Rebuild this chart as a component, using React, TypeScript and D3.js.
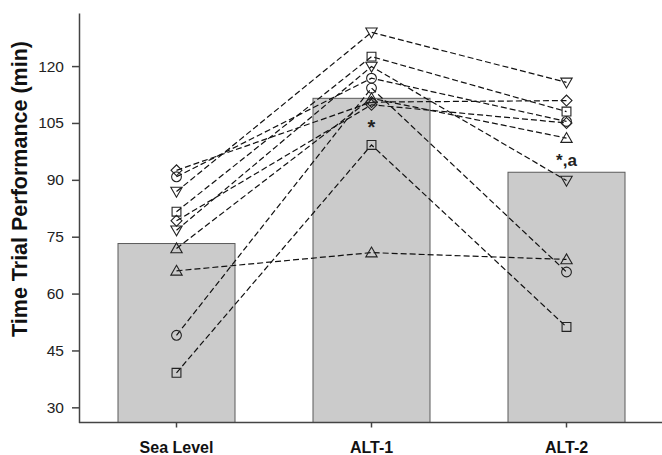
import { useRef, useEffect } from "react";
import * as d3 from "d3";

const conditions = ["Sea Level", "ALT-1", "ALT-2"];
const meanValues = [73.2, 111.5, 92.0];
const annotations = ["", "*", "*,a"];

// one entry per subject, same symbol kept across conditions
const subjectSymbols = [
  "circle", "circle",
  "triangleDown", "triangleDown",
  "square", "square",
  "diamond", "diamond",
  "triangleUp", "triangleUp",
];
const seaLevel = [90.8, 49.0, 86.9, 76.7, 81.6, 39.1, 92.5, 79.2, 71.9, 66.0];
const alt1 = [116.8, 114.2, 128.9, 119.9, 122.5, 99.2, 110.5, 109.8, 111.5, 70.8];
const alt2 = [105.4, 65.7, 115.7, 89.8, 108.0, 51.2, 110.9, 105.0, 101.0, 69.0];

const yTicks = [30, 45, 60, 75, 90, 105, 120];
const yDomain = [26, 134];

const font = "'Liberation Sans', Arial, sans-serif";

export default function App() {
  const svgRef = useRef<SVGSVGElement>(null);

  useEffect(() => {
    if (!svgRef.current) return;
    const width = 662;
    const height = 455;
    const left = 79;
    const top = 13;
    const bottom = 422.5;

    const svg = d3.select(svgRef.current);
    svg.selectAll("*").remove();
    svg.attr("width", width).attr("height", height);

    const x = d3
      .scaleBand<string>()
      .domain(conditions)
      .range([left, 664])
      .paddingInner(0.4)
      .paddingOuter(0.2);

    const y = d3.scaleLinear().domain(yDomain).range([bottom, top]);

    // Bars (means)
    svg
      .append("g")
      .selectAll("rect")
      .data(meanValues)
      .join("rect")
      .attr("x", (_, i) => x(conditions[i])!)
      .attr("y", (d) => y(d))
      .attr("width", x.bandwidth())
      .attr("height", (d) => bottom - y(d))
      .attr("fill", "#cbcbcb")
      .attr("stroke", "#5a5a5a")
      .attr("stroke-width", 1);

    // Axes
    const yAxis = svg
      .append("g")
      .attr("transform", `translate(${left},0)`)
      .call(d3.axisLeft(y).tickValues(yTicks).tickSize(7).tickSizeOuter(0).tickPadding(8));
    yAxis.select(".domain").attr("stroke", "#444").attr("stroke-width", 1.5);
    yAxis.selectAll(".tick line").attr("stroke", "#444").attr("stroke-width", 1.5);
    yAxis
      .selectAll("text")
      .attr("fill", "#222")
      .attr("font-size", 15.5)
      .attr("font-family", font);

    svg
      .append("line")
      .attr("x1", left)
      .attr("x2", width)
      .attr("y1", bottom)
      .attr("y2", bottom)
      .attr("stroke", "#444")
      .attr("stroke-width", 1.5);

    const cx = (c: string) => x(c)! + x.bandwidth() / 2;

    const xAxis = svg
      .append("g")
      .attr("transform", `translate(0,${bottom})`)
      .call(d3.axisBottom(x).tickSize(5).tickSizeOuter(0).tickPadding(14));
    xAxis.select(".domain").remove();
    xAxis.selectAll(".tick line").attr("stroke", "#444").attr("stroke-width", 1.5);
    xAxis
      .selectAll("text")
      .attr("fill", "#111")
      .attr("font-size", 16)
      .attr("font-weight", "bold")
      .attr("font-family", font);

    // Y title
    svg
      .append("text")
      .attr("transform", `translate(27,189) rotate(-90)`)
      .attr("text-anchor", "middle")
      .attr("font-size", 21.5)
      .attr("font-weight", "bold")
      .attr("font-family", font)
      .attr("fill", "#111")
      .text("Time Trial Performance (min)");

    // Subject lines
    const subjects = seaLevel.map((_, i) => [seaLevel[i], alt1[i], alt2[i]]);
    const line = d3
      .line<number>()
      .x((_, j) => cx(conditions[j]))
      .y((d) => y(d));

    svg
      .append("g")
      .selectAll("path")
      .data(subjects)
      .join("path")
      .attr("d", (d) => line(d))
      .attr("fill", "none")
      .attr("stroke", "#111")
      .attr("stroke-width", 1.2)
      .attr("stroke-dasharray", "6,3");

    // Markers
    const symbolFor = (s: string) => {
      if (s === "circle") return d3.symbol().type(d3.symbolCircle).size(75)();
      if (s === "square") return d3.symbol().type(d3.symbolSquare).size(78)();
      if (s === "diamond") return d3.symbol().type(d3.symbolSquare).size(60)();
      return d3.symbol().type(d3.symbolTriangle).size(56)();
    };
    const rotFor = (s: string) =>
      s === "triangleDown" ? 180 : s === "diamond" ? 45 : 0;

    const points: { s: string; c: string; v: number }[] = [];
    subjects.forEach((vals, i) =>
      vals.forEach((v, j) => points.push({ s: subjectSymbols[i], c: conditions[j], v })),
    );

    svg
      .append("g")
      .selectAll("path")
      .data(points)
      .join("path")
      .attr("d", (d) => symbolFor(d.s))
      .attr(
        "transform",
        (d) => `translate(${cx(d.c)},${y(d.v) + (d.s === "triangleUp" ? 1 : d.s === "triangleDown" ? -1 : 0)}) rotate(${rotFor(d.s)})`,
      )
      .attr("fill", "none")
      .attr("stroke", "#222")
      .attr("stroke-width", 1.1);

    // Significance marks
    svg
      .append("g")
      .selectAll("text")
      .data(annotations)
      .join("text")
      .attr("x", (_, i) => cx(conditions[i]))
      .attr("y", (_, i) => (i === 1 ? 134 : 166))
      .attr("text-anchor", "middle")
      .attr("font-size", (_, i) => (i === 1 ? 20 : 17))
      .attr("font-weight", "bold")
      .attr("font-family", font)
      .attr("fill", "#222")
      .text((d) => d);
  }, []);

  return (
    <div style={{ position: "absolute", left: 0, top: 0, background: "#fff" }}>
      <svg ref={svgRef} style={{ display: "block" }} />
    </div>
  );
}
